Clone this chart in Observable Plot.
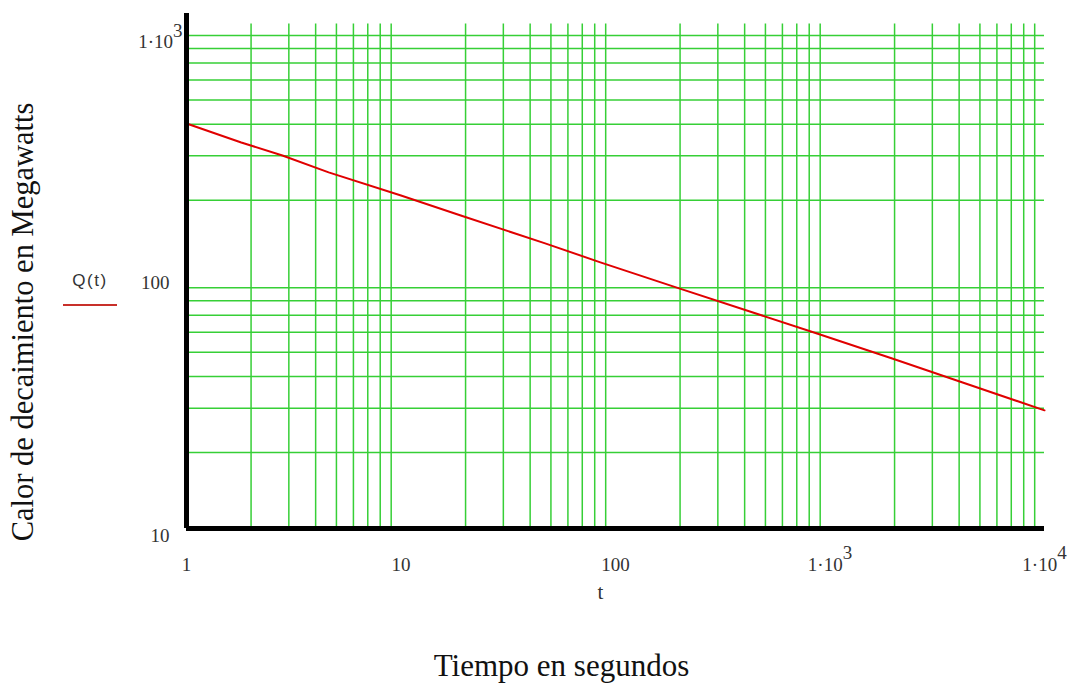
<!DOCTYPE html>
<html>
<head>
<meta charset="utf-8">
<script src="https://cdn.jsdelivr.net/npm/d3@7"></script>
<script src="https://cdn.jsdelivr.net/npm/@observablehq/plot@0.6"></script>
<style>
  html, body { margin: 0; padding: 0; background: #fff; }
  #wrap { position: relative; width: 1068px; height: 683px; }
  #legend { position: absolute; left: 63px; top: 271px; width: 54px; text-align: center;
            font-family: "Liberation Sans", sans-serif; font-size: 17px; letter-spacing: 1.5px; color: #333; }
  #legend .swatch { margin-top: 13px; border-top: 2.5px solid #c8302a; }
</style>
</head>
<body>
<div id="wrap">
  <div id="chart"></div>
  <div id="legend"><div>Q(t)</div><div class="swatch"></div></div>
</div>
<script>
// Time (s) and decay heat Q(t) (MW)
const time = [1, 1.8, 2.8, 4.6, 10, 19, 47, 85, 190, 870, 1950, 3900, 10000];
const heat = [403, 339, 301, 258, 209, 174, 135, 113.5, 90.5, 59.3, 47.2, 38.6, 29.4];

// Grid values (log minor lines; decade lines are not drawn in the original)
const xGrid = [2,3,4,5,6,7,8,9, 20,30,40,50,60,70,80,90, 200,300,400,500,600,700,800,900, 2000,3000,4000,5000,6000,7000,8000,9000];
const yGrid = [20,30,40,50,60,70,80,90, 200,300,400,500,600,700,800,900];

// Tick labels
const xTicks = [1, 10, 100, 1000, 10000];
const xTickLabels = ["1", "10", "100", "1·10^3", "1·10^4"];
const yTicks = [10, 100];
const yTickLabels = ["10", "100"];
const yTopTick = [1000];
const yTopTickLabel = ["1·10^3"];

const xDomain = [1, 10000];
const yDomain = [10, 1100];
const gridTop = 1000;

const data = time.map((t, i) => ({t, q: heat[i]}));
const serif = "'Liberation Serif', 'Times New Roman', serif";

const chart = Plot.plot({
  width: 1068,
  height: 683,
  marginLeft: 186,
  marginRight: 24,
  marginTop: 13,
  marginBottom: 155,
  style: {background: "#fff", fontFamily: serif},
  x: {type: "log", domain: xDomain, axis: null},
  y: {type: "log", domain: yDomain, axis: null},
  marks: [
    Plot.ruleX(xGrid, {x: d => d, y1: yDomain[0], y2: gridTop, stroke: "#36cf36", strokeWidth: 1.5}),
    Plot.ruleY(yGrid, {y: d => d, stroke: "#36cf36", strokeWidth: 1.5}),
    Plot.line(data, {x: "t", y: "q", stroke: "#e00000", strokeWidth: 2}),
    Plot.ruleX([xDomain[0]], {stroke: "#000", strokeWidth: 5}),
    Plot.ruleY([yDomain[0]], {stroke: "#000", strokeWidth: 5}),
    Plot.text(xTicks, {x: d => d, frameAnchor: "bottom", dy: 42, text: (d, i) => xTickLabels[i],
      fontSize: 19, fill: "#333", fontFamily: serif}),
    Plot.text(yTicks, {y: d => d, frameAnchor: "left", dx: -17, dy: 7, textAnchor: "end",
      text: (d, i) => yTickLabels[i], fontSize: 19, fill: "#333", fontFamily: serif}),
    Plot.text(yTopTick, {y: d => d, frameAnchor: "left", dx: -4, dy: 18, textAnchor: "end",
      text: (d, i) => yTopTickLabel[i], fontSize: 19, fill: "#333", fontFamily: serif}),
    Plot.text(["t"], {frameAnchor: "bottom", dx: -15, dy: 70, text: d => d, fontSize: 21, fill: "#333", fontFamily: serif}),
    Plot.text(["Tiempo en segundos"], {frameAnchor: "bottom", dx: -54, dy: 147, text: d => d,
      fontSize: 31, fill: "#111", fontFamily: serif}),
    Plot.text(["Calor de decaimiento en Megawatts"], {frameAnchor: "left", dx: -163, dy: 51, rotate: -90,
      textAnchor: "middle", lineAnchor: "middle",
      text: d => d, fontSize: 30.5, fill: "#111", fontFamily: serif})
  ]
});

// Render "a^b" labels with a raised exponent
chart.querySelectorAll("text").forEach(el => {
  const s = el.textContent;
  if (s.includes("^")) {
    const [base, exp] = s.split("^");
    el.textContent = base;
    const ts = document.createElementNS("http://www.w3.org/2000/svg", "tspan");
    ts.setAttribute("dy", "-0.6em");
    ts.textContent = exp;
    el.appendChild(ts);
  }
});

document.getElementById("chart").appendChild(chart);
</script>
</body>
</html>
